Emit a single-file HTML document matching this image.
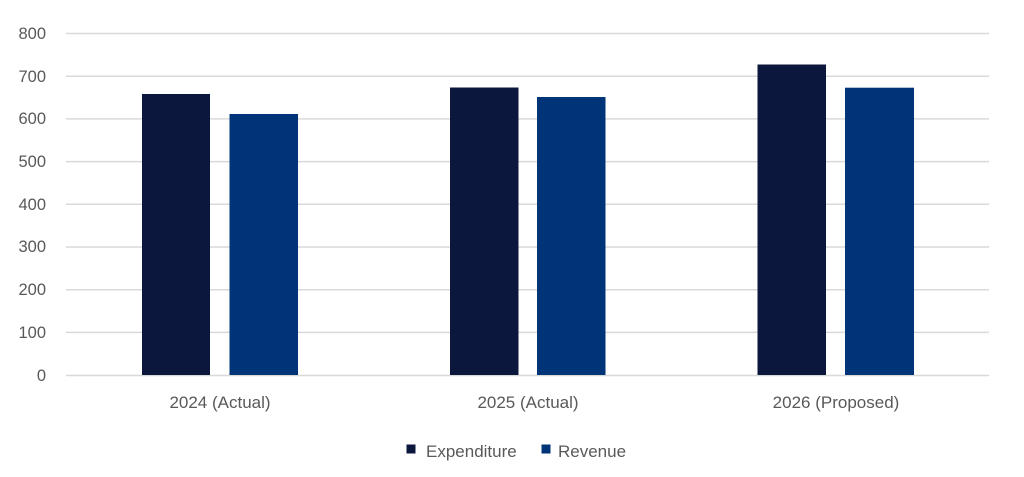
<!DOCTYPE html>
<html><head><meta charset="utf-8"><style>
html,body{margin:0;padding:0;background:#fff;}
svg text{font-family:"Liberation Sans",sans-serif;fill:#595959;}
</style></head><body>
<svg width="1024" height="472" xmlns="http://www.w3.org/2000/svg">
<g stroke="#d9d9d9" stroke-width="1.5">
<line x1="66" x2="989" y1="33.5" y2="33.5"/>
<line x1="66" x2="989" y1="76.2" y2="76.2"/>
<line x1="66" x2="989" y1="118.9" y2="118.9"/>
<line x1="66" x2="989" y1="161.6" y2="161.6"/>
<line x1="66" x2="989" y1="204.3" y2="204.3"/>
<line x1="66" x2="989" y1="247" y2="247"/>
<line x1="66" x2="989" y1="289.7" y2="289.7"/>
<line x1="66" x2="989" y1="332.4" y2="332.4"/>
<line x1="66" x2="989" y1="375.5" y2="375.5"/>
</g>
<g font-size="16.5" text-anchor="end">
<text x="46" y="39">800</text>
<text x="46" y="82">700</text>
<text x="46" y="124">600</text>
<text x="46" y="167">500</text>
<text x="46" y="210">400</text>
<text x="46" y="252">300</text>
<text x="46" y="295">200</text>
<text x="46" y="338">100</text>
<text x="46" y="381">0</text>
</g>
<g fill="#0c173d">
<rect x="142" y="94" width="68" height="281"/>
<rect x="450" y="87.5" width="68.5" height="287.5"/>
<rect x="757.5" y="64.5" width="68.5" height="310.5"/>
</g>
<g fill="#003478">
<rect x="229.5" y="114" width="68.5" height="261"/>
<rect x="537" y="97" width="68.5" height="278"/>
<rect x="845" y="87.7" width="69" height="287.3"/>
</g>
<g font-size="17" text-anchor="middle">
<text x="220" y="408">2024 (Actual)</text>
<text x="528" y="408">2025 (Actual)</text>
<text x="836" y="408">2026 (Proposed)</text>
</g>
<rect x="406.5" y="444.5" width="9" height="9" fill="#0c173d"/>
<text x="426" y="457" font-size="17">Expenditure</text>
<rect x="541.5" y="444.5" width="9" height="9" fill="#003478"/>
<text x="558" y="457" font-size="17">Revenue</text>
</svg>
</body></html>
